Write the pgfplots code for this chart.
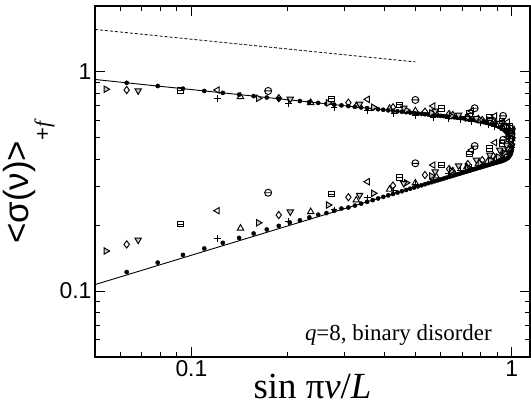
\documentclass[border=0pt]{standalone}
\usepackage{fontspec}
\setmainfont{Liberation Serif}
\setsansfont{Liberation Sans}
\usepackage{pgfplots}
\pgfplotsset{compat=1.18}
\pgfdeclareplotmark{ominus}{%
  \pgfpathcircle{\pgfpoint{0pt}{0pt}}{\pgfplotmarksize}%
  \pgfpathmoveto{\pgfpoint{-\pgfplotmarksize}{0pt}}%
  \pgfpathlineto{\pgfpoint{\pgfplotmarksize}{0pt}}%
  \pgfusepathqstroke}
\pgfdeclareplotmark{sqminus}{%
  \pgfpathrectangle{\pgfpoint{-\pgfplotmarksize}{-\pgfplotmarksize}}{\pgfpoint{2\pgfplotmarksize}{2\pgfplotmarksize}}%
  \pgfpathmoveto{\pgfpoint{-\pgfplotmarksize}{0pt}}%
  \pgfpathlineto{\pgfpoint{\pgfplotmarksize}{0pt}}%
  \pgfusepathqstroke}
\begin{document}
\begin{tikzpicture}
\useasboundingbox (-95bp,-55bp) rectangle (436bp,357bp);
\begin{axis}[
  at={(0,0)}, anchor=south west,
  scale only axis, width=435bp, height=351bp,
  xmode=log, ymode=log,
  xmin=0.05, xmax=1.14, ymin=0.05, ymax=2,
  xtick={0.1,1}, xticklabels={0.1,1},
  ytick={0.1,1}, yticklabels={0.1,1},
  minor xtick={0.06,0.07,0.08,0.09,0.2,0.3,0.4,0.5,0.6,0.7,0.8,0.9},
  minor ytick={0.06,0.07,0.08,0.09,0.2,0.3,0.4,0.5,0.6,0.7,0.8,0.9},
  tick align=inside, tick pos=both,
  major tick length=10bp, minor tick length=5bp,
  every tick/.style={black, line width=0.9bp},
  axis line style={line width=1.5bp},
  tick label style={font=\sffamily\fontsize{23}{25}\selectfont},
  /pgf/number format/assume math mode=true,
  clip=false,
  xlabel={sin π\textit{ν}/\textit{L}},
  xlabel style={font=\fontsize{37}{40}\selectfont, at={(axis description cs:0.5,-0.117)}, anchor=base},
  ylabel={\textless σ(ν)\textgreater\raisebox{-0.6em}{\fontsize{22}{24}\selectfont +\textit{\rmfamily f}}},
  ylabel style={font=\sffamily\fontsize{35}{37}\selectfont, at={(axis description cs:-0.085,0.5)}, anchor=south},
]
% dashed reference line
\addplot[black, line width=0.8bp, dash pattern=on 3bp off 2bp] coordinates {(0.05,1.563) (0.5,1.111)};
% solid curve
\addplot[black, line width=0.9bp] coordinates {
(0.05,0.924) (0.0628,0.892) (0.1,0.831) (0.2,0.747) (0.3,0.7014) (0.4,0.6712) (0.5,0.6485)
(0.5878,0.6324) (0.6494,0.6229) (0.7071,0.6149) (0.7604,0.6040) (0.8090,0.5932) (0.8526,0.5825)
(0.8910,0.5714) (0.9239,0.5575) (0.9511,0.5410) (0.9724,0.5219) (0.9877,0.5044) (0.9956,0.4890)
(0.9995,0.4688) (1.0,0.4592) (0.9995,0.4498) (0.9956,0.4311) (0.9877,0.4183) (0.9724,0.4052)
(0.9511,0.3977) (0.9239,0.3910) (0.8910,0.3853) (0.8526,0.3779) (0.8090,0.3691) (0.7604,0.3591)
(0.7071,0.3477) (0.6494,0.3347) (0.5878,0.3202) (0.5,0.2980) (0.4,0.2698) (0.3,0.2374)
(0.2,0.1983) (0.1,0.1457) (0.05,0.1070)};
% dots (large L)
\addplot[only marks, mark=*, mark size=2.1bp, black] coordinates {
(0.0628,0.892) (0.0785,0.8625) (0.0941,0.8387) (0.1097,0.8189) (0.1253,0.8025) (0.1409,0.788)
(0.1564,0.7757) (0.1719,0.7646) (0.1874,0.7543) (0.2028,0.7452) (0.2181,0.7369) (0.2334,0.7292)
(0.2487,0.7221) (0.2639,0.7156) (0.2790,0.7095) (0.2940,0.7038) (0.3090,0.6983) (0.3239,0.6933)
(0.3387,0.6885) (0.3535,0.6840) (0.3681,0.6798) (0.3827,0.6757) (0.3971,0.6719) (0.4115,0.6682)
(0.4258,0.6647) (0.4399,0.6613) (0.4540,0.6581) (0.4679,0.6551) (0.4818,0.6521) (0.4955,0.6493)
(0.5090,0.6466) (0.5225,0.6440) (0.5358,0.6414) (0.5490,0.6390) (0.5621,0.6367) (0.5750,0.6345)
(0.5878,0.6324) (0.6004,0.6303) (0.6129,0.6284) (0.6252,0.6265) (0.6374,0.6247) (0.6494,0.6229)
(0.6613,0.6212) (0.6730,0.6196) (0.6845,0.6180) (0.6959,0.6164) (0.7071,0.6149) (0.7181,0.6124)
(0.7290,0.6104) (0.7396,0.6082) (0.7501,0.6061) (0.7604,0.6040) (0.7705,0.6018) (0.7804,0.5997)
(0.7902,0.5976) (0.7997,0.5954) (0.8090,0.5932) (0.8181,0.5910) (0.8271,0.5889) (0.8358,0.5867)
(0.8443,0.5845) (0.8526,0.5825) (0.8607,0.5804) (0.8686,0.5781) (0.8763,0.5760) (0.8838,0.5739)
(0.8910,0.5714) (0.8980,0.5685) (0.9048,0.5658) (0.9114,0.5630) (0.9178,0.5602) (0.9239,0.5575)
(0.9298,0.5547) (0.9354,0.5519) (0.9409,0.5488) (0.9461,0.5450) (0.9511,0.5410) (0.9558,0.5370)
(0.9603,0.5333) (0.9646,0.5294) (0.9686,0.5255) (0.9724,0.5219) (0.9759,0.5183) (0.9792,0.5147)
(0.9823,0.5112) (0.9851,0.5079) (0.9877,0.5044) (0.9900,0.5009) (0.9921,0.4977) (0.9940,0.4943)
(0.9956,0.4890) (0.9969,0.4842) (0.9980,0.4789) (0.9989,0.4739) (0.9995,0.4688) (0.9999,0.4641)
(1.0000,0.4592)
(0.0628,0.1221) (0.0785,0.1348) (0.0941,0.1462) (0.1097,0.1564) (0.1253,0.1660) (0.1409,0.1748)
(0.1564,0.1831) (0.1719,0.1910) (0.1874,0.1984) (0.2028,0.2055) (0.2181,0.2103) (0.2334,0.2168)
(0.2487,0.2231) (0.2639,0.2269) (0.2790,0.2326) (0.2940,0.2380) (0.3090,0.2406) (0.3239,0.2456)
(0.3387,0.2506) (0.3535,0.2554) (0.3681,0.2601) (0.3827,0.2646) (0.3971,0.2690) (0.4115,0.2733)
(0.4258,0.2774) (0.4399,0.2815) (0.4540,0.2855) (0.4679,0.2893) (0.4818,0.2932) (0.4955,0.2968)
(0.5090,0.3004) (0.5225,0.3039) (0.5358,0.3073) (0.5490,0.3107) (0.5621,0.3139) (0.5750,0.3171)
(0.5878,0.3202) (0.6004,0.3233) (0.6129,0.3262) (0.6252,0.3291) (0.6374,0.3320) (0.6494,0.3347)
(0.6613,0.3375) (0.6730,0.3401) (0.6845,0.3427) (0.6959,0.3452) (0.7071,0.3477) (0.7181,0.3500)
(0.7290,0.3523) (0.7396,0.3546) (0.7501,0.3569) (0.7604,0.3591) (0.7705,0.3612) (0.7804,0.3633)
(0.7902,0.3653) (0.7997,0.3672) (0.8090,0.3691) (0.8181,0.3710) (0.8271,0.3728) (0.8358,0.3745)
(0.8443,0.3762) (0.8526,0.3779) (0.8607,0.3795) (0.8686,0.3810) (0.8763,0.3825) (0.8838,0.3840)
(0.8910,0.3853) (0.8980,0.3864) (0.9048,0.3876) (0.9114,0.3888) (0.9178,0.3899) (0.9239,0.3910)
(0.9298,0.3923) (0.9354,0.3935) (0.9409,0.3947) (0.9461,0.3962) (0.9511,0.3977) (0.9558,0.3992)
(0.9603,0.4007) (0.9646,0.4022) (0.9686,0.4037) (0.9724,0.4052) (0.9759,0.4076) (0.9792,0.4103)
(0.9823,0.4130) (0.9851,0.4156) (0.9877,0.4183) (0.9900,0.4211) (0.9921,0.4237) (0.9940,0.4266)
(0.9956,0.4311) (0.9969,0.4355) (0.9980,0.4403) (0.9989,0.4451) (0.9995,0.4498) (0.9999,0.4544)};
% + L=78
\addplot[only marks, mark=+, mark size=3.4bp, black, mark options={line width=1bp}] coordinates {
(0.1205,0.758) (0.2013,0.720) (0.2788,0.690) (0.3546,0.666) (0.4287,0.646) (0.5,0.633)
(0.5681,0.620) (0.6324,0.610) (0.6926,0.604) (0.7485,0.594) (0.7994,0.585) (0.8452,0.573)
(0.8855,0.564) (0.9203,0.555) (0.9487,0.544) (0.9709,0.527) (0.9871,0.511) (0.9968,0.49)
(1.0,0.465)
(0.9968,0.45) (0.9871,0.436) (0.9709,0.420) (0.9487,0.407) (0.9203,0.399) (0.8855,0.390)
(0.8452,0.384) (0.7994,0.376) (0.7485,0.366) (0.6926,0.3566) (0.6324,0.3422) (0.5681,0.3246)
(0.5,0.306) (0.4287,0.289) (0.3546,0.266) (0.2788,0.2344) (0.2013,0.207) (0.1205,0.174)};
% triangle up L=66
\addplot[only marks, mark=triangle, mark size=3.7bp, black, mark options={line width=0.95bp}] coordinates {
(0.1423,0.771) (0.2357,0.724) (0.3270,0.700) (0.4154,0.681) (0.5,0.664) (0.5801,0.650)
(0.6549,0.636) (0.7237,0.623) (0.7861,0.610) (0.8413,0.598) (0.8888,0.585) (0.9284,0.573)
(0.9595,0.561) (0.9819,0.544) (0.9955,0.522) (1.0,0.495)
(0.9955,0.469) (0.9819,0.445) (0.9595,0.427) (0.9284,0.411) (0.8888,0.401) (0.8413,0.390)
(0.7861,0.380) (0.7237,0.368) (0.6549,0.353) (0.5801,0.335) (0.5,0.311) (0.4154,0.291)
(0.3270,0.260) (0.2357,0.230) (0.1423,0.1933)};
% triangle right L=58
\addplot[only marks, mark=triangle*, mark size=3.7bp, black, mark options={rotate=-90, fill=gray!45, line width=0.95bp}] coordinates {
(0.0541,0.834) (0.1618,0.758) (0.2675,0.722) (0.3701,0.690) (0.4684,0.671) (0.5612,0.650)
(0.6473,0.630) (0.7260,0.616) (0.7961,0.604) (0.8569,0.591) (0.9076,0.579) (0.9477,0.567)
(0.9767,0.549) (0.9941,0.527) (1.0,0.50)
(0.9941,0.469) (0.9767,0.445) (0.9477,0.427) (0.9076,0.409) (0.8569,0.396) (0.7961,0.384)
(0.7260,0.368) (0.6473,0.353) (0.5612,0.335) (0.4684,0.312) (0.3701,0.2793) (0.2675,0.247)
(0.1618,0.205) (0.0541,0.1523)};
% diamond L=50
\addplot[only marks, mark=diamond, mark size=3.6bp, black, mark options={line width=0.95bp}] coordinates {
(0.0628,0.827) (0.1874,0.759) (0.3090,0.724) (0.4258,0.690) (0.5358,0.659) (0.6374,0.643)
(0.7290,0.623) (0.8090,0.604) (0.8763,0.591) (0.9298,0.573) (0.9686,0.555) (0.9921,0.532)
(1.0,0.505)
(0.9921,0.479) (0.9686,0.45) (0.9298,0.431) (0.8763,0.413) (0.8090,0.396) (0.7290,0.380)
(0.6374,0.3606) (0.5358,0.3386) (0.4258,0.303) (0.3090,0.268) (0.1874,0.2223) (0.0628,0.1633)};
% triangle down L=46
\addplot[only marks, mark=triangle*, mark size=3.7bp, black, mark options={rotate=180, fill=gray!45, line width=0.95bp}] coordinates {
(0.0682,0.821) (0.2035,0.753) (0.3349,0.714) (0.4601,0.685) (0.5767,0.664) (0.6825,0.636)
(0.7757,0.615) (0.8544,0.600) (0.9172,0.583) (0.9629,0.562) (0.9907,0.538) (1.0,0.51)
(0.9907,0.487) (0.9629,0.464) (0.9172,0.44) (0.8544,0.418) (0.7757,0.3965) (0.6825,0.373)
(0.5767,0.3505) (0.4601,0.31) (0.3349,0.274) (0.2035,0.230) (0.0682,0.171)};
% square with bar L=34
\addplot[only marks, mark=sqminus, mark size=2.9bp, black, mark options={line width=0.95bp}] coordinates {
(0.0923,0.821) (0.2737,0.753) (0.4457,0.707) (0.6026,0.683) (0.7390,0.648) (0.8502,0.621)
(0.9325,0.598) (0.9830,0.567) (1.0,0.525)
(0.9830,0.495) (0.9325,0.472) (0.8502,0.448) (0.7390,0.422) (0.6026,0.376) (0.4457,0.3305)
(0.2737,0.2773) (0.0923,0.2022)};
% triangle left L=26
\addplot[only marks, mark=triangle, mark size=3.7bp, black, mark options={rotate=90, line width=0.95bp}] coordinates {
(0.1205,0.827) (0.3546,0.750) (0.5681,0.699) (0.7485,0.664) (0.8855,0.630) (0.9709,0.59)
(1.0,0.54)
(0.9709,0.505) (0.8855,0.476) (0.7485,0.44) (0.5681,0.376) (0.3546,0.3155) (0.1205,0.2326)};
% circle with bar L=18
\addplot[only marks, mark=ominus, mark size=3.5bp, black, mark options={line width=0.95bp}] coordinates {
(0.1736,0.819) (0.5,0.745) (0.7660,0.683) (0.9397,0.630) (1.0,0.55)
(0.9397,0.49) (0.7660,0.459) (0.5,0.383) (0.1736,0.281)};
\node[anchor=base east, font=\fontsize{23}{25}\selectfont] at (axis description cs:0.92,0.046) {\textit{q}=8, binary disorder};
\end{axis}
\end{tikzpicture}
\end{document}
